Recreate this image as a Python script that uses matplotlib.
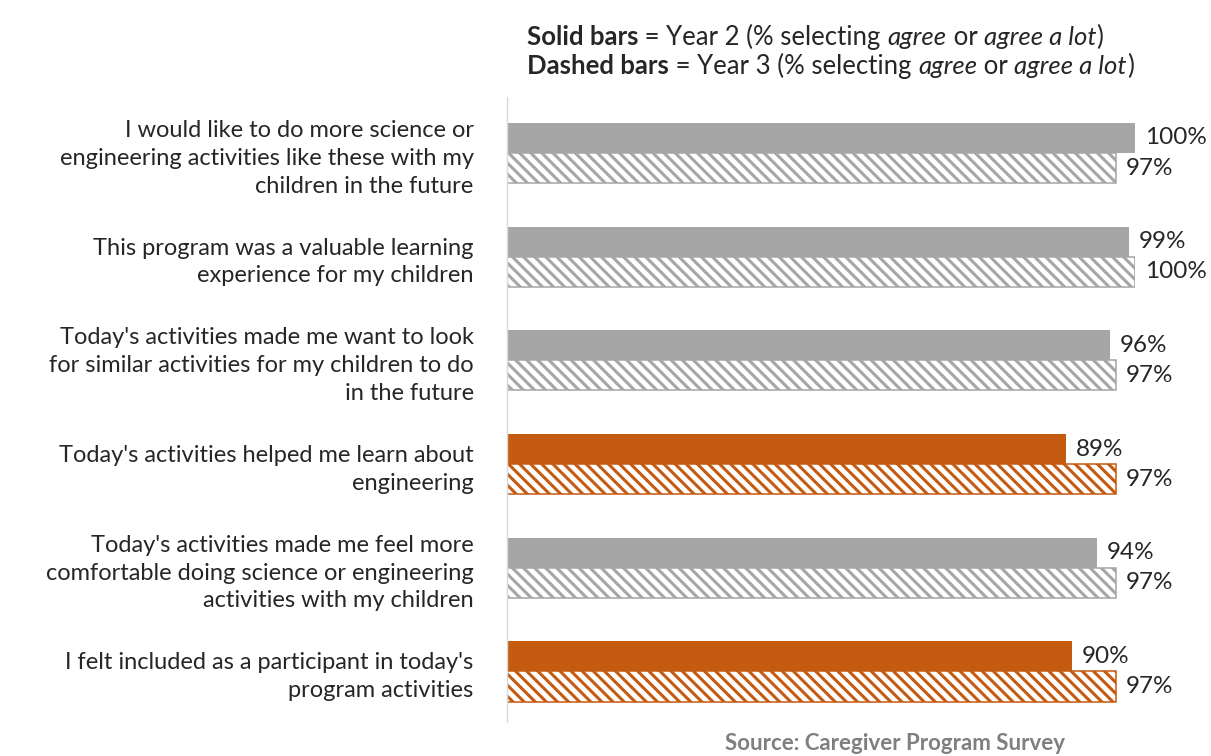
import matplotlib.pyplot as plt
import numpy as np

plt.rcParams['font.family'] = ['Lato', 'DejaVu Sans']
plt.rcParams['hatch.linewidth'] = 2.2

# data
CATEGORIES = [
    "I would like to do more science or\nengineering activities like these with my\nchildren in the future",
    "This program was a valuable learning\nexperience for my children",
    "Today's activities made me want to look\nfor similar activities for my children to do\nin the future",
    "Today's activities helped me learn about\nengineering",
    "Today's activities made me feel more\ncomfortable doing science or engineering\nactivities with my children",
    "I felt included as a participant in today's\nprogram activities",
]
YEAR2 = [100, 99, 96, 89, 94, 90]
YEAR3 = [97, 100, 97, 97, 97, 97]
HIGHLIGHT = [False, False, False, True, False, True]

GREY = "#A6A6A6"
ORANGE = "#C55A11"
TEXT = "#262626"

fig = plt.figure(figsize=(12.11, 7.56), dpi=100)
ax = fig.add_axes([507 / 1211, 34 / 756, (1135 - 507) / 1211, (722 - 97) / 756])

y = np.arange(len(CATEGORIES))
h = 0.29
colors = [ORANGE if hl else GREY for hl in HIGHLIGHT]

ax.barh(y - h / 2, YEAR2, height=h, color=colors, edgecolor="none")
ax.barh(y + h / 2, YEAR3, height=h, color="white", edgecolor=colors,
        hatch="\\\\\\", linewidth=1.1)

for i in range(len(y)):
    ax.annotate(f"{YEAR2[i]}%", (YEAR2[i], y[i] - h / 2), xytext=(7, 0),
                textcoords="offset points", va="center", ha="left",
                fontsize=17.5, color=TEXT, annotation_clip=False)
    ax.annotate(f"{YEAR3[i]}%", (YEAR3[i], y[i] + h / 2), xytext=(7, 0),
                textcoords="offset points", va="center", ha="left",
                fontsize=17.5, color=TEXT, annotation_clip=False)

ax.set_xlim(0, 100)
ax.set_ylim(5.487, -0.54)
ax.set_yticks(y)
ax.set_yticklabels(CATEGORIES, fontsize=17, color=TEXT, linespacing=1.4)
ax.tick_params(axis="y", length=0, pad=24)
ax.set_xticks([])
for s in ["top", "right", "bottom"]:
    ax.spines[s].set_visible(False)
ax.spines["left"].set_color("#D9D9D9")
ax.spines["left"].set_linewidth(1.0)

# header lines with mixed styles, pieces laid out on a common baseline
renderer = fig.canvas.get_renderer()


def header(x_px, base_px, parts):
    x = x_px
    for txt, w, st in parts:
        t = fig.text(x / 1211, 1 - base_px / 756, txt, fontsize=18.5, color=TEXT,
                     fontweight=w, fontstyle=st, va="baseline", ha="left")
        x += t.get_window_extent(renderer).width


header(527, 45, [
    ("Solid bars", "bold", "normal"), (" = Year 2 (% selecting ", "normal", "normal"),
    ("agree", "normal", "italic"), (" or ", "normal", "normal"),
    ("agree a lot", "normal", "italic"), (")", "normal", "normal")])
header(527, 74, [
    ("Dashed bars", "bold", "normal"), (" = Year 3 (% selecting ", "normal", "normal"),
    ("agree", "normal", "italic"), (" or ", "normal", "normal"),
    ("agree a lot", "normal", "italic"), (")", "normal", "normal")])

fig.text(895 / 1211, 1 - 743 / 756, "Source: Caregiver Program Survey",
         fontsize=16, fontweight="bold", color="#7F7F7F", ha="center", va="center")

fig.savefig("out.png", dpi=100)
